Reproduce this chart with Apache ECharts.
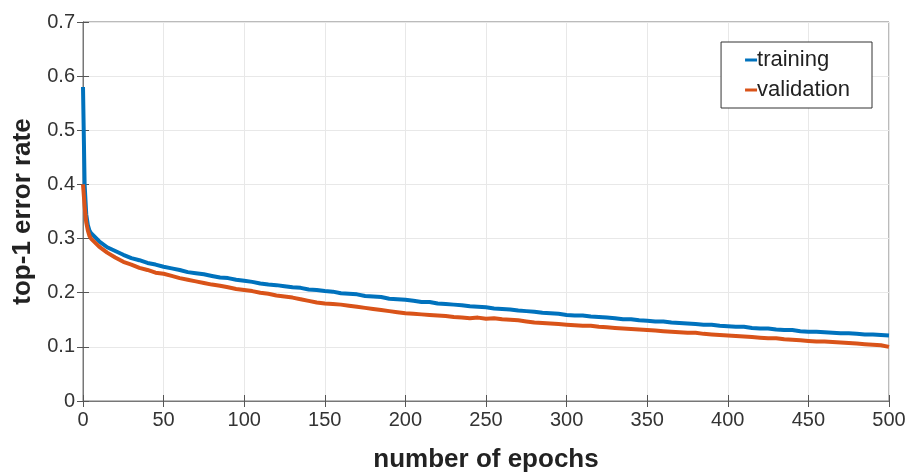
<!DOCTYPE html>
<html>
<head>
<meta charset="utf-8">
<script src="https://cdn.jsdelivr.net/npm/echarts@6/dist/echarts.min.js"></script>
<style>
  html, body { margin: 0; padding: 0; background: #fff; }
  #chart { width: 915px; height: 473px; }
</style>
</head>
<body>
<div id="chart"></div>
<script>
// epochs at which the curves were sampled
const epochs = [0, 1, 2, 3, 4, 5, 10, 15, 20, 25, 30, 35, 40, 45, 50, 55, 60, 65, 70, 75, 80, 85, 90, 95,
  100, 105, 110, 115, 120, 125, 130, 135, 140, 145, 150, 155, 160, 165, 170, 175, 180, 185, 190, 195,
  200, 205, 210, 215, 220, 225, 230, 235, 240, 245, 250, 255, 260, 265, 270, 275, 280, 285, 290, 295,
  300, 305, 310, 315, 320, 325, 330, 335, 340, 345, 350, 355, 360, 365, 370, 375, 380, 385, 390, 395,
  400, 405, 410, 415, 420, 425, 430, 435, 440, 445, 450, 455, 460, 465, 470, 475, 480, 485, 490, 495, 500];

const training = [0.58, 0.40, 0.345, 0.325, 0.315, 0.31, 0.295, 0.284, 0.277, 0.27, 0.264, 0.26, 0.255, 0.252, 0.248, 0.245, 0.242, 0.238, 0.236, 0.234, 0.231, 0.228, 0.227, 0.224,
  0.222, 0.22, 0.217, 0.215, 0.214, 0.212, 0.21, 0.209, 0.206, 0.205, 0.203, 0.202, 0.199, 0.198, 0.197, 0.194, 0.193, 0.192, 0.189, 0.188,
  0.187, 0.185, 0.183, 0.183, 0.18, 0.179, 0.178, 0.177, 0.175, 0.174, 0.173, 0.171, 0.17, 0.169, 0.167, 0.166, 0.165, 0.163, 0.162, 0.161,
  0.159, 0.158, 0.158, 0.156, 0.155, 0.154, 0.153, 0.151, 0.151, 0.149, 0.148, 0.147, 0.147, 0.145, 0.144, 0.143, 0.142, 0.141, 0.141, 0.139,
  0.138, 0.137, 0.137, 0.135, 0.134, 0.134, 0.132, 0.131, 0.131, 0.129, 0.128, 0.128, 0.127, 0.126, 0.125, 0.125, 0.124, 0.123, 0.123, 0.122, 0.121];

const validation = [0.40, 0.36, 0.33, 0.315, 0.305, 0.30, 0.285, 0.274, 0.265, 0.257, 0.252, 0.246, 0.242, 0.237, 0.235, 0.231, 0.227, 0.224, 0.221, 0.218, 0.215, 0.213, 0.21, 0.207,
  0.205, 0.203, 0.2, 0.198, 0.195, 0.193, 0.191, 0.188, 0.185, 0.182, 0.18, 0.179, 0.178, 0.176, 0.174, 0.172, 0.17, 0.168, 0.166, 0.164,
  0.162, 0.161, 0.16, 0.159, 0.158, 0.157, 0.155, 0.154, 0.153, 0.154, 0.152, 0.153, 0.151, 0.15, 0.149, 0.147, 0.145, 0.144, 0.143, 0.142,
  0.141, 0.14, 0.139, 0.139, 0.137, 0.136, 0.135, 0.134, 0.133, 0.132, 0.131, 0.13, 0.129, 0.128, 0.127, 0.126, 0.126, 0.124, 0.123, 0.122,
  0.121, 0.12, 0.119, 0.118, 0.117, 0.116, 0.116, 0.114, 0.113, 0.112, 0.111, 0.11, 0.11, 0.109, 0.108, 0.107, 0.106, 0.105, 0.104, 0.103, 0.1];

const seriesNames = ["training", "validation"];
const xLabel = "number of epochs";
const yLabel = "top-1 error rate";

const font = "'Liberation Sans', Arial, sans-serif";
const chart = echarts.init(document.getElementById("chart"));

const pairs = (ys) => epochs.map((e, i) => [e, ys[i]]);

const tickStyle = { inside: true, length: 6, lineStyle: { color: "#555" } };

chart.setOption({
  animation: false,
  color: ["#0072BD", "#D95319"],
  textStyle: { fontFamily: font },
  grid: { left: 83, right: 26, top: 22, bottom: 72, show: true, borderColor: "#777", borderWidth: 1, outerBoundsMode: "none" },
  legend: {
    data: seriesNames,
    orient: "vertical",
    right: 43,
    top: 42,
    backgroundColor: "#fff",
    borderColor: "#333",
    borderWidth: 1,
    padding: [7, 22, 7, 24],
    itemGap: 8,
    itemWidth: 12,
    itemHeight: 3,
    icon: "rect",
    textStyle: { fontSize: 22, color: "#222", fontFamily: font, padding: [0, 0, 0, -5] }
  },
  xAxis: [{
    type: "value",
    min: 0, max: 500, interval: 50,
    name: xLabel,
    nameLocation: "middle",
    nameGap: 46,
    nameTextStyle: { fontSize: 26, fontWeight: "bold", color: "#222" },
    axisLine: { show: true, lineStyle: { color: "#777" } },
    axisTick: tickStyle,
    axisLabel: { fontSize: 20, color: "#333", margin: 9 },
    splitLine: { show: true, lineStyle: { color: "#e8e8e8" } }
  }, {
    type: "value", position: "top",
    min: 0, max: 500, interval: 50,
    axisLine: { show: true, lineStyle: { color: "#777" } },
    axisTick: tickStyle,
    axisLabel: { show: false },
    splitLine: { show: false }
  }],
  yAxis: [{
    type: "value",
    min: 0, max: 0.7, interval: 0.1,
    name: yLabel,
    nameLocation: "middle",
    nameGap: 41,
    nameTextStyle: { fontSize: 26, fontWeight: "bold", color: "#222" },
    axisLine: { show: true, lineStyle: { color: "#777" } },
    axisTick: tickStyle,
    axisLabel: { fontSize: 20, color: "#333", margin: 8, formatter: (v) => String(+v.toFixed(1)) },
    splitLine: { show: true, lineStyle: { color: "#e8e8e8" } }
  }, {
    type: "value", position: "right",
    min: 0, max: 0.7, interval: 0.1,
    axisLine: { show: true, lineStyle: { color: "#777" } },
    axisTick: tickStyle,
    axisLabel: { show: false },
    splitLine: { show: false }
  }],
  series: [
    { name: seriesNames[0], type: "line", showSymbol: false, data: pairs(training), lineStyle: { width: 4 }, z: 3 },
    { name: seriesNames[1], type: "line", showSymbol: false, data: pairs(validation), lineStyle: { width: 4 }, z: 4 }
  ]
});
</script>
</body>
</html>
